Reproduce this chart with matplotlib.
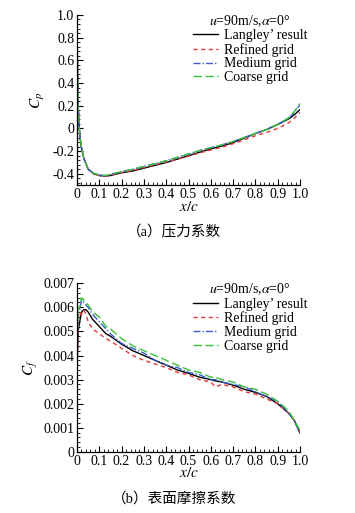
import numpy as np
import matplotlib.pyplot as plt
from matplotlib.ticker import AutoMinorLocator, FuncFormatter, MultipleLocator

plt.rcParams['font.family'] = ['Liberation Serif', 'Noto Sans CJK SC']
plt.rcParams['mathtext.fontset'] = 'stix'

# pressure coefficient
cp_x = [0, 0.002, 0.005, 0.01, 0.015, 0.02, 0.03, 0.05, 0.075, 0.1, 0.125, 0.15, 0.2, 0.25,
        0.3, 0.35, 0.4, 0.45, 0.5, 0.55, 0.6, 0.65, 0.7, 0.75, 0.8, 0.85, 0.9, 0.95, 0.975, 1.0]
cp_langley = [0.95, 0.55, 0.2, 0.0, -0.1, -0.17, -0.26, -0.36, -0.40, -0.415, -0.42, -0.415,
              -0.39, -0.375, -0.35, -0.325, -0.30, -0.27, -0.24, -0.21, -0.18, -0.155, -0.125,
              -0.085, -0.045, -0.01, 0.035, 0.085, 0.12, 0.165]
cp_refined = [0.95, 0.55, 0.2, 0.0, -0.1, -0.17, -0.26, -0.36, -0.40, -0.415, -0.42, -0.41,
              -0.39, -0.37, -0.345, -0.32, -0.295, -0.27, -0.245, -0.215, -0.19, -0.165, -0.135,
              -0.10, -0.065, -0.035, 0.0, 0.05, 0.09, 0.14]
cp_medium = [0.95, 0.55, 0.2, 0.0, -0.1, -0.17, -0.26, -0.36, -0.395, -0.41, -0.415, -0.405,
             -0.38, -0.36, -0.335, -0.31, -0.285, -0.255, -0.225, -0.195, -0.17, -0.145, -0.115,
             -0.08, -0.045, -0.01, 0.035, 0.09, 0.14, 0.21]
cp_coarse = [0.95, 0.55, 0.2, 0.0, -0.1, -0.17, -0.26, -0.36, -0.395, -0.41, -0.415, -0.405,
             -0.38, -0.36, -0.335, -0.31, -0.285, -0.255, -0.225, -0.195, -0.17, -0.145, -0.115,
             -0.08, -0.045, -0.01, 0.035, 0.095, 0.15, 0.22]

# skin friction coefficient
cf_x = [0, 0.005, 0.01, 0.02, 0.03, 0.04, 0.05, 0.07, 0.1, 0.13, 0.15, 0.2, 0.25, 0.3, 0.35,
        0.4, 0.45, 0.5, 0.55, 0.6, 0.62, 0.65, 0.7, 0.75, 0.8, 0.85, 0.9, 0.95, 0.975, 1.0]
cf_langley = [0.0035, 0.0050, 0.0053, 0.0058, 0.0059, 0.0059, 0.0058, 0.0055, 0.0052, 0.0049,
              0.0048, 0.00447, 0.0042, 0.0040, 0.0038, 0.0036, 0.0034, 0.00326, 0.0031, 0.0030,
              0.00295, 0.0029, 0.00277, 0.0026, 0.00247, 0.0023, 0.0020, 0.0016, 0.0013, 0.00078]
cf_refined = [0.0030, 0.0055, 0.0058, 0.0057, 0.0059, 0.0057, 0.0054, 0.0051, 0.0049, 0.0047,
              0.0046, 0.0043, 0.0040, 0.0038, 0.00365, 0.0035, 0.0033, 0.0032, 0.0030, 0.0029,
              0.0027, 0.0028, 0.0027, 0.0025, 0.0024, 0.0022, 0.0020, 0.0016, 0.0013, 0.0008]
cf_medium = [0.0040, 0.0058, 0.0058, 0.0063, 0.0062, 0.0061, 0.0060, 0.0057, 0.0054, 0.0051,
             0.0049, 0.0045, 0.0043, 0.0041, 0.0038, 0.0036, 0.0035, 0.0033, 0.0032, 0.0030,
             0.0030, 0.0029, 0.0028, 0.0027, 0.0025, 0.0023, 0.0021, 0.0016, 0.0013, 0.0008]
cf_coarse = [0.0045, 0.0060, 0.0059, 0.0064, 0.0063, 0.0062, 0.0061, 0.0058, 0.0056, 0.0052,
             0.0051, 0.0047, 0.0044, 0.0042, 0.0040, 0.0038, 0.0036, 0.0034, 0.0033, 0.0031,
             0.0031, 0.0030, 0.0029, 0.0027, 0.0026, 0.0024, 0.0021, 0.0017, 0.0013, 0.0009]

labels = ['Langley’ result', 'Refined grid', 'Medium grid', 'Coarse grid']
colors = ['black', '#e03a3a', '#3a5ad0', '#3ac03a']
styles = ['-', (0, (3, 2.5)), (0, (5, 1.5, 1, 1.5)), (0, (6, 2.5))]
legend_title = r'$u$=90m/s,$\alpha$=0°'

fig = plt.figure(figsize=(3.55, 5.13), dpi=100)
ax1 = fig.add_axes([0.217, 0.639, 0.628, 0.332])
ax2 = fig.add_axes([0.217, 0.119, 0.628, 0.329])


def style_axes(ax, yfmt):
    for s in ['top', 'right']:
        ax.spines[s].set_visible(False)
    for s in ['left', 'bottom']:
        ax.spines[s].set_linewidth(0.9)
    ax.set_xlim(0, 1.0)
    ax.xaxis.set_major_locator(MultipleLocator(0.1))
    ax.xaxis.set_minor_locator(AutoMinorLocator(5))
    ax.yaxis.set_minor_locator(AutoMinorLocator(5))
    ax.xaxis.set_major_formatter(FuncFormatter(lambda v, p: '0' if abs(v) < 1e-9 else '%.1f' % v))
    ax.yaxis.set_major_formatter(FuncFormatter(yfmt))
    ax.tick_params(which='both', direction='in', labelsize=10, pad=2)
    ax.tick_params(which='major', length=4, width=0.8)
    ax.tick_params(which='minor', length=2, width=0.6)
    ax.set_xlabel(r'$x/c$', fontsize=11, labelpad=-1)


series1 = [cp_langley, cp_refined, cp_medium, cp_coarse]
for y, lab, c, ls in zip(series1, labels, colors, styles):
    ax1.plot(cp_x, y, color=c, linestyle=ls, linewidth=1.0, label=lab)
ax1.set_ylim(-0.5, 1.0)
ax1.yaxis.set_major_locator(MultipleLocator(0.2))
style_axes(ax1, lambda v, p: '0' if abs(v) < 1e-9 else '%.1f' % v)
ax1.set_ylabel(r'$C_p$', fontsize=11, labelpad=4)

series2 = [cf_langley, cf_refined, cf_medium, cf_coarse]
for y, lab, c, ls in zip(series2, labels, colors, styles):
    ax2.plot(cf_x, y, color=c, linestyle=ls, linewidth=1.0, label=lab)
ax2.set_ylim(0, 0.007)
ax2.yaxis.set_major_locator(MultipleLocator(0.001))
style_axes(ax2, lambda v, p: '0' if abs(v) < 1e-12 else '%.3f' % v)
ax2.set_ylabel(r'$C_f$', fontsize=11, labelpad=2)

for ax in [ax1, ax2]:
    ax.legend(loc='upper right', bbox_to_anchor=(1.07, 1.06), frameon=False,
              fontsize=10, title=legend_title, title_fontsize=10,
              handlelength=1.8, handletextpad=0.4, labelspacing=0.05,
              borderaxespad=0.2)

fig.text(0.49, 1 - 232 / 513, '（a）压力系数', ha='center', va='center', fontsize=10.5)
fig.text(0.49, 1 - 499 / 513, '（b）表面摩擦系数', ha='center', va='center', fontsize=10.5)

fig.savefig('out.png', dpi=100)
